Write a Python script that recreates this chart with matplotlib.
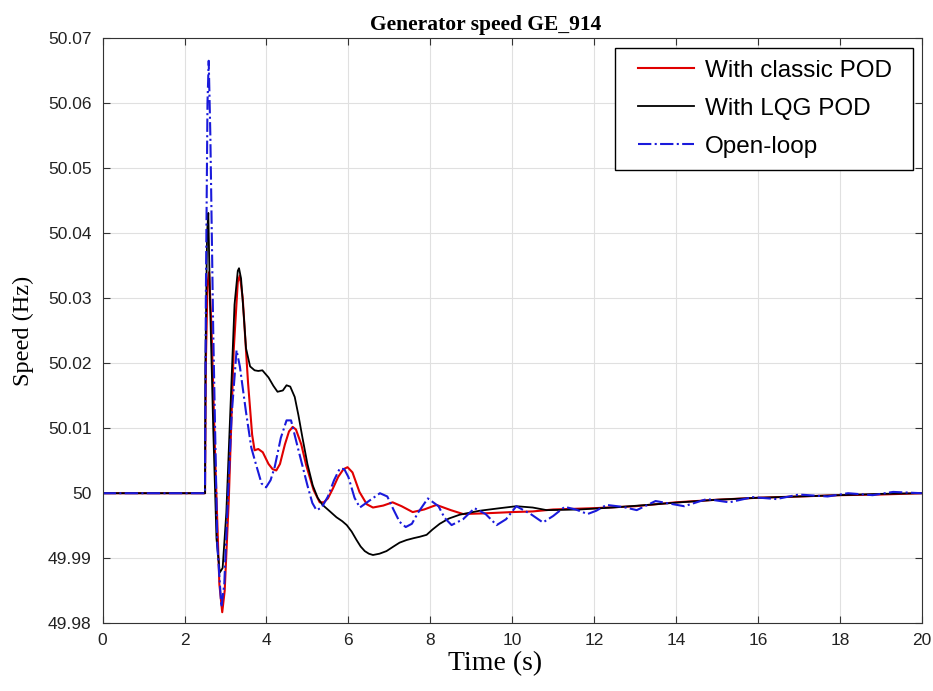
import matplotlib
matplotlib.use("Agg")
import matplotlib.pyplot as plt
from matplotlib.patches import Rectangle
import numpy as np

# values (time in s, speed in Hz)
t_classic = [0, 2.5, 2.52, 2.56, 2.6, 2.66, 2.75, 2.85, 2.92, 2.98, 3.08, 3.2, 3.3, 3.35, 3.42,
             3.55, 3.65, 3.71, 3.8, 3.91, 4.05, 4.15, 4.24, 4.33, 4.45, 4.55, 4.64, 4.72, 4.85,
             4.97, 5.15, 5.3, 5.4, 5.5, 5.62, 5.75, 5.88, 5.98, 6.1, 6.27, 6.45, 6.6, 6.85,
             7.08, 7.3, 7.57, 7.85, 8.15, 8.5, 8.8, 9.3, 10.0, 10.5, 11.0, 12.0, 13.0, 14.0,
             15.0, 16.0, 17.0, 18.0, 19.0, 20.0]
speed_classic = [50.0, 50.0, 50.02, 50.032, 50.034, 50.025, 50.005, 49.986, 49.9817, 49.985,
                 49.999, 50.022, 50.0325, 50.0335, 50.03, 50.017, 50.009, 50.0066, 50.0068,
                 50.0063, 50.0045, 50.0037, 50.0035, 50.0045, 50.0075, 50.0095, 50.0102,
                 50.0098, 50.0075, 50.0043, 50.0005, 49.9986, 49.9986, 49.9992, 50.0007,
                 50.0025, 50.0037, 50.004, 50.0032, 50.0002, 49.9983, 49.9978, 49.9981,
                 49.9986, 49.998, 49.9971, 49.9975, 49.9982, 49.9974, 49.9968, 49.9969,
                 49.9971, 49.9972, 49.9975, 49.9977, 49.998, 49.9986, 49.999, 49.9993,
                 49.9995, 49.9997, 49.9998, 50.0]

t_lqg = [0, 2.5, 2.51, 2.55, 2.58, 2.62, 2.7, 2.78, 2.86, 2.93, 3.02, 3.12, 3.22, 3.3, 3.33,
         3.38, 3.45, 3.5, 3.6, 3.71, 3.8, 3.9, 4.05, 4.17, 4.27, 4.4, 4.49, 4.58, 4.69, 4.78,
         4.88, 5.0, 5.13, 5.25, 5.37, 5.55, 5.71, 5.85, 5.96, 6.08, 6.2, 6.3, 6.4, 6.5, 6.6,
         6.76, 6.93, 7.1, 7.25, 7.42, 7.6, 7.74, 7.91, 8.05, 8.23, 8.45, 8.72, 9.2, 9.7,
         10.1, 10.5, 10.84, 11.65, 12.45, 13.3, 14.1, 15.0, 16.0, 17.0, 18.0, 19.0, 20.0]
speed_lqg = [50.0, 50.0, 50.02, 50.04, 50.0431, 50.03, 50.01, 49.993, 49.9878, 49.9885,
             49.997, 50.013, 50.029, 50.0342, 50.0346, 50.033, 50.027, 50.0223, 50.0195,
             50.0189, 50.0188, 50.0189, 50.0178, 50.0165, 50.0156, 50.0158, 50.0166,
             50.0164, 50.0148, 50.012, 50.0085, 50.0045, 50.0012, 49.9993, 49.9982,
             49.9972, 49.9963, 49.9957, 49.9951, 49.9941, 49.9928, 49.9918, 49.9911,
             49.9907, 49.9905, 49.9907, 49.9911, 49.9918, 49.9924, 49.9928, 49.9931,
             49.9933, 49.9936, 49.9944, 49.9953, 49.9961, 49.9967, 49.9973, 49.9977,
             49.998, 49.9978, 49.9974, 49.9975, 49.9978, 49.9982, 49.9986, 49.999,
             49.9993, 49.9995, 49.9997, 49.9999, 50.0]

t_open = [0, 2.5, 2.52, 2.56, 2.59, 2.63, 2.7, 2.8, 2.9, 2.97, 3.05, 3.15, 3.27, 3.35, 3.5,
          3.63, 3.75, 3.88, 3.99, 4.1, 4.2, 4.35, 4.49, 4.6, 4.77, 5.0, 5.12, 5.22, 5.35, 5.5,
          5.65, 5.79, 5.9, 6.0, 6.15, 6.28, 6.5, 6.77, 6.95, 7.1, 7.25, 7.4, 7.55, 7.7, 7.94,
          8.2, 8.35, 8.52, 8.8, 9.08, 9.35, 9.62, 9.85, 10.1, 10.45, 10.75, 11.0, 11.28,
          11.55, 11.84, 12.05, 12.3, 12.7, 13.04, 13.5, 14.2, 14.75, 15.3, 15.87, 16.45,
          17.0, 17.7, 18.2, 18.8, 19.3, 20.0]
speed_open = [50.0, 50.0, 50.03, 50.06, 50.0665, 50.055, 50.025, 49.992, 49.9825, 49.986,
              49.998, 50.012, 50.022, 50.0195, 50.0125, 50.007, 50.0043, 50.0015, 50.0009,
              50.002, 50.004, 50.0085, 50.0112, 50.0112, 50.0069, 50.0012, 49.9985,
              49.9974, 49.9978, 49.9995, 50.002, 50.0038, 50.0037, 50.0025, 49.9993,
              49.9978, 49.9988, 50.0, 49.9995, 49.9975, 49.9956, 49.9948, 49.9953, 49.997,
              49.9992, 49.998, 49.9962, 49.9951, 49.996, 49.9977, 49.9968, 49.9951,
              49.996, 49.998, 49.9968, 49.9955, 49.9965, 49.9979, 49.9975, 49.9968,
              49.9973, 49.9982, 49.9979, 49.9974, 49.9988, 49.998, 49.9991, 49.9986,
              49.9994, 49.9991, 49.9998, 49.9995, 50.0, 49.9997, 50.0002, 50.0]

plt.rcParams["font.family"] = ["Liberation Sans", "DejaVu Sans"]

fig = plt.figure(figsize=(9.33, 6.91), dpi=100)
ax = fig.add_axes([0.110, 0.098, 0.878, 0.847])

ax.plot(t_classic, speed_classic, color="#e00000", lw=1.5, label="With classic POD")
ax.plot(t_lqg, speed_lqg, color="black", lw=1.3, label="With LQG POD")
ax.plot(t_open, speed_open, color="#1a1adb", lw=1.5, ls="-.", label="Open-loop")

ax.set_xlim(0, 20)
ax.set_ylim(49.98, 50.07)
ax.set_xticks(np.arange(0, 21, 2))
yt = np.arange(49.98, 50.0701, 0.01)
ax.set_yticks(yt)
ax.set_yticklabels(["49.98", "49.99", "50", "50.01", "50.02", "50.03", "50.04",
                    "50.05", "50.06", "50.07"])
ax.grid(True, color="#e0e0e0", lw=0.8)
ax.tick_params(direction="in", top=True, right=True, labelsize=12.5, length=5,
               color="#333333", labelcolor="#222222")
ax.tick_params(axis="y", pad=8)
ax.tick_params(axis="x", pad=7)
for sp in ax.spines.values():
    sp.set_color("#333333")

ax.set_title("Generator speed GE_914", family="Liberation Serif", fontweight="bold",
             fontsize=15.5, pad=6, x=0.468)
ax.set_xlabel("Time (s)", family="Liberation Serif", fontsize=20, labelpad=2, x=0.479)
ax.set_ylabel("Speed (Hz)", family="Liberation Serif", fontsize=17.5, labelpad=10)

# legend without its own frame, box drawn wider on the left like the original
leg = ax.legend(loc="upper right", fontsize=17.5, frameon=False, borderpad=0.5,
                handlelength=2.3, handletextpad=0.45, borderaxespad=0.4,
                labelspacing=0.65, bbox_to_anchor=(0.99, 1.0))
box = Rectangle((0.625, 0.774), 0.364, 0.209, transform=ax.transAxes,
                facecolor="white", edgecolor="black", lw=1.0, zorder=4)
ax.add_patch(box)
leg.set_zorder(5)

fig.savefig("out.png", dpi=100)
